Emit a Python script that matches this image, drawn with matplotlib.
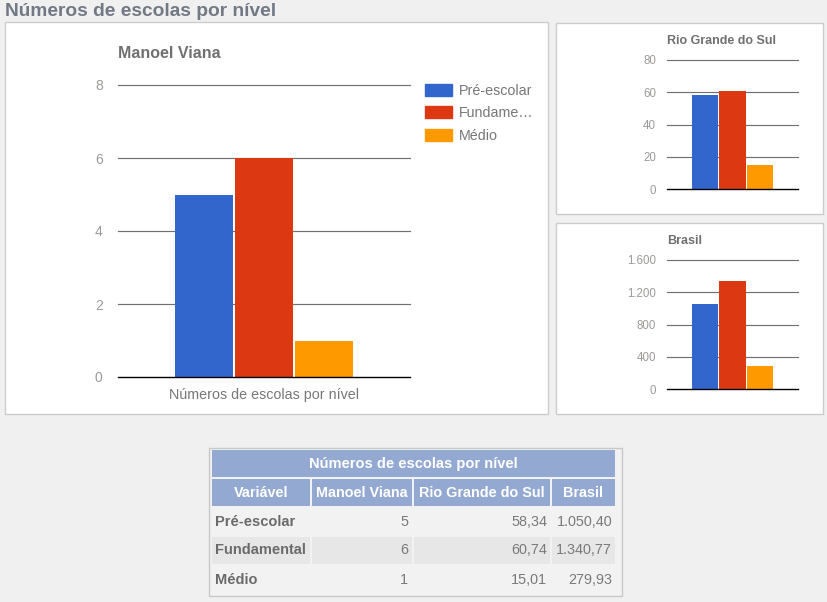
import matplotlib.pyplot as plt
from matplotlib.patches import Rectangle
from matplotlib.ticker import FuncFormatter

plt.rcParams['font.family'] = ['Liberation Sans', 'DejaVu Sans']

# data
niveis = ['Pré-escolar', 'Fundamental', 'Médio']
legenda = ['Pré-escolar', 'Fundame…', 'Médio']
manoel_viana = [5, 6, 1]
rio_grande_sul = [58.34, 60.74, 15.01]
brasil = [1050.40, 1340.77, 279.93]
colunas = ['Variável', 'Manoel Viana', 'Rio Grande do Sul', 'Brasil']
titulo = 'Números de escolas por nível'

cores = ['#3366cc', '#dc3912', '#ff9900']
W, H = 827, 602


def px(x0, y0, x1, y1):
    return [x0 / W, 1 - y1 / H, (x1 - x0) / W, (y1 - y0) / H]


def br_num(v, dec=2):
    s = f'{v:,.{dec}f}'
    return s.replace(',', '#').replace('.', ',').replace('#', '.')


fig = plt.figure(figsize=(W / 100, H / 100), dpi=100, facecolor='#f0f0f0')

# background layer in pixel coordinates
bg = fig.add_axes([0, 0, 1, 1], zorder=0)
bg.set_xlim(0, W)
bg.set_ylim(H, 0)
bg.axis('off')
bg.text(5, 12, titulo, fontsize=13.8, fontweight='bold', color='#717985', va='center', ha='left')
for (x0, y0, x1, y1) in [(5, 22, 548, 414), (556, 23, 823, 214), (556, 223, 823, 414)]:
    bg.add_patch(Rectangle((x0, y0), x1 - x0, y1 - y0, facecolor='white', edgecolor='#cccccc', lw=1))


def bar_chart(rect, valores, ymax, step, largura, fs_tick, pad, fmt=None):
    ax = fig.add_axes(px(*rect), zorder=1)
    ax.patch.set_alpha(0)
    x = [-1, 0, 1]
    ax.bar(x, valores, width=largura, color=cores, zorder=3)
    ax.set_ylim(0, ymax)
    ticks = list(range(0, ymax + 1, step))
    ax.set_yticks(ticks)
    for t in ticks[1:]:
        ax.axhline(t, color='#707070', lw=0.85, zorder=1, clip_on=False)
    ax.axhline(0, color='black', lw=1.0, zorder=4, clip_on=False)
    for s in ax.spines.values():
        s.set_visible(False)
    ax.set_xticks([])
    ax.tick_params(axis='y', length=0, pad=pad, labelsize=fs_tick, labelcolor='#9c9a98')
    if fmt:
        ax.yaxis.set_major_formatter(FuncFormatter(fmt))
    return ax


# main chart
ax = bar_chart((118, 85, 410, 377), manoel_viana, 8, 2, 0.97, 10, 11)
ax.set_xlim(-2.43, 2.43)
bg.text(118, 53, 'Manoel Viana', fontsize=11.5, fontweight='bold', color='#707070', ha='left', va='center')
ax.set_xlabel(titulo, fontsize=10.3, color='#777777', labelpad=8)
handles = [Rectangle((0, 0), 1, 1, color=c) for c in cores]
fig.legend(handles, legenda, loc='upper left', bbox_to_anchor=(425 / W, 1 - 84 / H),
           frameon=False, fontsize=10.3, handlelength=1.9, handleheight=0.92,
           handletextpad=0.45, labelspacing=0.58, labelcolor='#777777', borderpad=0, borderaxespad=0)

# small charts
ax2 = bar_chart((667, 60, 798, 189), rio_grande_sul, 80, 20, 0.95, 8.3, 8)
ax2.set_xlim(-2.38, 2.38)
bg.text(667, 41, 'Rio Grande do Sul', fontsize=9, fontweight='bold', color='#707070', ha='left', va='center')
ax3 = bar_chart((667, 260, 798, 389), brasil, 1600, 400, 0.95, 8.3, 8,
                fmt=lambda v, p: br_num(v, 0))
ax3.set_xlim(-2.38, 2.38)
bg.text(667, 241, 'Brasil', fontsize=9, fontweight='bold', color='#707070', ha='left', va='center')

# table
bg.add_patch(Rectangle((209, 448), 413, 148, facecolor='#f2f2f2', edgecolor='#c8c8c8', lw=1))
head = '#93a9d1'
bg.add_patch(Rectangle((212, 450), 403, 27, facecolor=head, lw=0))
bg.text(413.5, 464, titulo, fontsize=10.5, fontweight='bold', color='white', ha='center', va='center')
cols = [(212, 310), (312, 412), (414, 550), (552, 615)]
for (c0, c1), nome in zip(cols, colunas):
    bg.add_patch(Rectangle((c0, 479), c1 - c0, 27, facecolor=head, lw=0))
    bg.text((c0 + c1) / 2, 493, nome, fontsize=10.4, fontweight='bold', color='white', ha='center', va='center')
rows = [(508, 535), (537, 564), (566, 593)]
for i, ((r0, r1), nivel) in enumerate(zip(rows, niveis)):
    if i == 1:
        for c0, c1 in cols:
            bg.add_patch(Rectangle((c0, r0), c1 - c0, r1 - r0, facecolor='#e7e7e7', lw=0))
    yc = (r0 + r1) / 2
    bg.text(215, yc, nivel, fontsize=10.5, fontweight='bold', color='#6b6b6b', ha='left', va='center')
    bg.text(cols[1][1] - 4, yc, str(manoel_viana[i]), fontsize=10.4, color='#7a7a7a', ha='right', va='center')
    bg.text(cols[2][1] - 3, yc, br_num(rio_grande_sul[i]), fontsize=10.4, color='#7a7a7a', ha='right', va='center')
    bg.text(cols[3][1] - 3, yc, br_num(brasil[i]), fontsize=10.4, color='#7a7a7a', ha='right', va='center')

fig.savefig('out.png', dpi=100, facecolor=fig.get_facecolor())
